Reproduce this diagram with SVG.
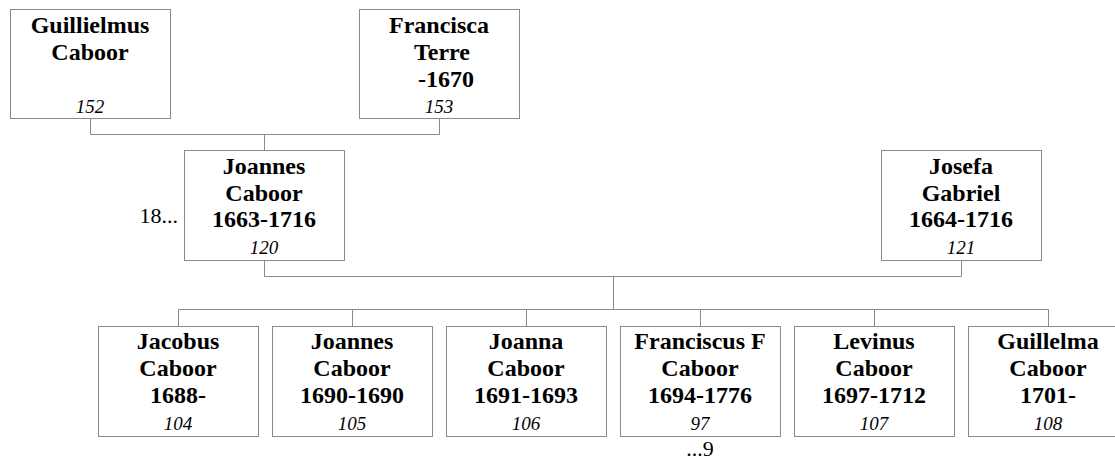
<svg xmlns="http://www.w3.org/2000/svg" width="1115" height="459" viewBox="0 0 1115 459">
<style>
.box{fill:#fff;stroke:#8a8a8a;stroke-width:1}
.ln{fill:none;stroke:#8a8a8a;stroke-width:1}
text{font-family:'Liberation Serif',Tinos,'Times New Roman',Times,'Nimbus Roman','DejaVu Serif',serif;fill:#000}
.nm{font-weight:bold;font-size:24px;text-anchor:middle}
.id{font-style:italic;font-size:19px;text-anchor:middle}
.ex{font-size:22px}
</style>
<rect width="1115" height="459" fill="#fff"/>
<g id="connectors">
<path class="ln" d="M90.5,118 V134.5 H439.5 V118 M264.5,134.5 V150"/>
<path class="ln" d="M264.5,260 V276.5 H961.5 V260 M613.5,276.5 V309.5"/>
<path class="ln" d="M178.5,309.5 H1048.5 M178.5,309.5 V326 M352.5,309.5 V326 M526.5,309.5 V326 M700.5,309.5 V326 M874.5,309.5 V326 M1048.5,309.5 V326"/>
</g>
<g id="n152">
<rect class="box" x="10.5" y="9.5" width="160" height="109"/>
<text class="nm" x="90" y="33">Guillielmus</text>
<text class="nm" x="90" y="60">Caboor</text>
<text class="id" x="90" y="113">152</text>
</g>
<g id="n153">
<rect class="box" x="359.5" y="9.5" width="160" height="109"/>
<text class="nm" x="439" y="33">Francisca</text>
<text class="nm" x="442" y="60">Terre</text>
<text class="nm" x="446" y="87">-1670</text>
<text class="id" x="439" y="113">153</text>
</g>
<g id="n120">
<rect class="box" x="184.5" y="150.5" width="160" height="110"/>
<text class="nm" x="264" y="174">Joannes</text>
<text class="nm" x="264" y="201">Caboor</text>
<text class="nm" x="264" y="227">1663-1716</text>
<text class="id" x="264" y="254">120</text>
<text class="ex" x="178" y="223" text-anchor="end">18...</text>
</g>
<g id="n121">
<rect class="box" x="881.5" y="150.5" width="160" height="110"/>
<text class="nm" x="961" y="174">Josefa</text>
<text class="nm" x="961" y="201">Gabriel</text>
<text class="nm" x="961" y="227">1664-1716</text>
<text class="id" x="961" y="254">121</text>
</g>
<g id="n104">
<rect class="box" x="98.5" y="326.5" width="160" height="110"/>
<text class="nm" x="178" y="349">Jacobus</text>
<text class="nm" x="178" y="376">Caboor</text>
<text class="nm" x="178" y="403">1688-</text>
<text class="id" x="178" y="430">104</text>
</g>
<g id="n105">
<rect class="box" x="272.5" y="326.5" width="160" height="110"/>
<text class="nm" x="352" y="349">Joannes</text>
<text class="nm" x="352" y="376">Caboor</text>
<text class="nm" x="352" y="403">1690-1690</text>
<text class="id" x="352" y="430">105</text>
</g>
<g id="n106">
<rect class="box" x="446.5" y="326.5" width="160" height="110"/>
<text class="nm" x="526" y="349">Joanna</text>
<text class="nm" x="526" y="376">Caboor</text>
<text class="nm" x="526" y="403">1691-1693</text>
<text class="id" x="526" y="430">106</text>
</g>
<g id="n97">
<rect class="box" x="620.5" y="326.5" width="160" height="110"/>
<text class="nm" x="700" y="349">Franciscus F</text>
<text class="nm" x="700" y="376">Caboor</text>
<text class="nm" x="700" y="403">1694-1776</text>
<text class="id" x="700" y="430">97</text>
<text class="ex" x="700" y="456" text-anchor="middle">...9</text>
</g>
<g id="n107">
<rect class="box" x="794.5" y="326.5" width="160" height="110"/>
<text class="nm" x="874" y="349">Levinus</text>
<text class="nm" x="874" y="376">Caboor</text>
<text class="nm" x="874" y="403">1697-1712</text>
<text class="id" x="874" y="430">107</text>
</g>
<g id="n108">
<rect class="box" x="968.5" y="326.5" width="160" height="110"/>
<text class="nm" x="1048" y="349">Guillelma</text>
<text class="nm" x="1048" y="376">Caboor</text>
<text class="nm" x="1048" y="403">1701-</text>
<text class="id" x="1048" y="430">108</text>
</g>
</svg>
